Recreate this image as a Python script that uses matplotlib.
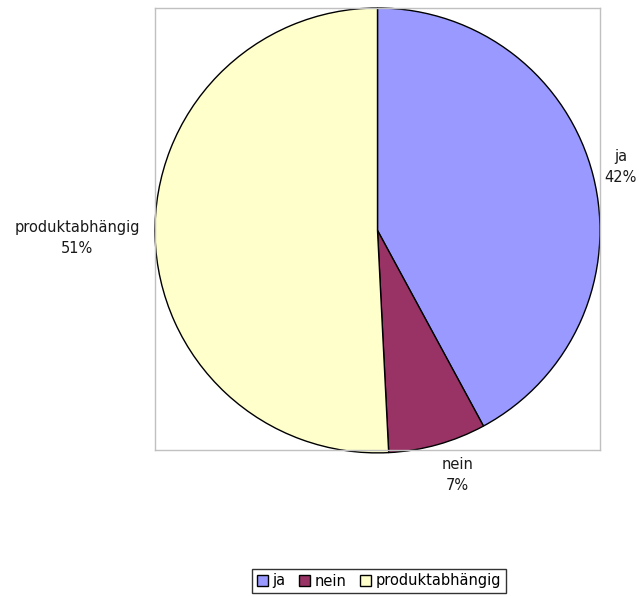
import numpy as np
import matplotlib.pyplot as plt

labels = ['ja', 'nein', 'produktabhängig']
values = [42.1, 7.1, 50.8]
pct_text = ['42%', '7%', '51%']
colors = ['#9999FF', '#993366', '#FFFFCC']
label_dist = [1.13, 1.155, 1.35]
label_shift = [0.5, 2.4, 0.0]   # degrees, nudges label around the wedge middle


def main():
    plt.rcParams['font.family'] = ['DejaVu Sans']
    fig = plt.figure(figsize=(6.39, 5.97), dpi=100)
    W, H = 639, 597
    ax = fig.add_axes([155 / W, 1 - 450 / H, 445 / W, 442 / H])

    wedges, _ = ax.pie(values, colors=colors, startangle=90, counterclock=False,
                       wedgeprops=dict(edgecolor='black', linewidth=1))
    ax.set_aspect('auto')
    ax.set_xlim(-1, 1)
    ax.set_ylim(-0.987, 1.0)
    ax.set_frame_on(True)
    for s in ax.spines.values():
        s.set_color('#C0C0C0')
        s.set_linewidth(1)
    ax.set_xticks([])
    ax.set_yticks([])
    for w in wedges:
        w.set_clip_on(False)

    for w, name, p, d, sh in zip(wedges, labels, pct_text, label_dist, label_shift):
        mid = np.deg2rad((w.theta1 + w.theta2) / 2 + sh)
        ax.text(d * np.cos(mid), d * np.sin(mid), f'{name}\n{p}', ha='center', va='center',
                fontsize=10.5, color='#1a1a1a', linespacing=1.5)

    leg = fig.legend(wedges, labels, loc='center', bbox_to_anchor=(379 / W, 1 - 581 / H),
                     ncol=3, frameon=True, fancybox=False, fontsize=10.5,
                     handlelength=0.75, handleheight=0.75, handletextpad=0.35,
                     columnspacing=0.9, borderpad=0.3, borderaxespad=0)
    leg.get_frame().set_edgecolor('black')
    leg.get_frame().set_linewidth(1)

    fig.savefig('out.png', dpi=100)


if __name__ == '__main__':
    main()
